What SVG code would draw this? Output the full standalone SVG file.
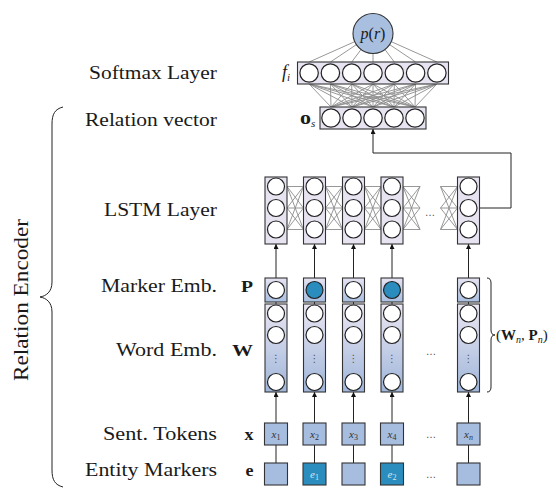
<svg xmlns="http://www.w3.org/2000/svg" width="556" height="488" viewBox="0 0 556 488">
<defs>
<linearGradient id="gP" x1="0" y1="0" x2="0" y2="1"><stop offset="0" stop-color="#e6e3f2"/><stop offset="1" stop-color="#aabfe0"/></linearGradient>
<linearGradient id="gW" x1="0" y1="0" x2="0" y2="1"><stop offset="0" stop-color="#ebe7f3"/><stop offset="1" stop-color="#9fb6da"/></linearGradient>
<marker id="ah" viewBox="0 0 6 6" refX="6" refY="3" markerWidth="5" markerHeight="5" orient="auto" markerUnits="userSpaceOnUse"><path d="M0,0 L6,3 L0,6 z" fill="#111"/></marker>
</defs>
<style>
.lbl{font-family:"Liberation Serif","DejaVu Serif",serif;font-size:19px;fill:#1a1a1a;text-anchor:end}
.m{font-family:"Liberation Serif","DejaVu Serif",serif;fill:#1a1a1a}
.bx{fill:#e7e3f1;stroke:#333;stroke-width:1.1}
.pb{fill:url(#gP);stroke:#333;stroke-width:1.1}
.wb{fill:url(#gW);stroke:#333;stroke-width:1.1}
.tk{fill:#a6bddf;stroke:#333;stroke-width:1.1}
.tkd{fill:#2b8cbe;stroke:#333;stroke-width:1.1}
.c{fill:#fff;stroke:#222;stroke-width:1.2}
.cd{fill:#2b8cbe;stroke:#222;stroke-width:1.2}
.g{stroke:#8c8c8c;stroke-width:0.9;fill:none}
.k{stroke:#222;stroke-width:1;fill:none}
.a{stroke:#222;stroke-width:1;fill:none;marker-end:url(#ah)}
.tt{font-family:"Liberation Serif","DejaVu Serif",serif;font-style:italic;font-size:11px;text-anchor:middle;fill:#333}
.dots{font-family:"DejaVu Sans",sans-serif;font-size:10px;fill:#555;text-anchor:middle}
</style>

<!-- left labels -->
<g id="labels">
<text class="lbl" x="217" y="79" textLength="128" lengthAdjust="spacingAndGlyphs">Softmax Layer</text>
<text class="lbl" x="217" y="126" textLength="132" lengthAdjust="spacingAndGlyphs">Relation vector</text>
<text class="lbl" x="217" y="216" textLength="113" lengthAdjust="spacingAndGlyphs">LSTM Layer</text>
<text class="lbl" x="217" y="292" textLength="116" lengthAdjust="spacingAndGlyphs">Marker Emb.</text>
<text class="lbl" x="217" y="356" textLength="101" lengthAdjust="spacingAndGlyphs">Word Emb.</text>
<text class="lbl" x="217" y="440" textLength="114" lengthAdjust="spacingAndGlyphs">Sent. Tokens</text>
<text class="lbl" x="217" y="476" textLength="132" lengthAdjust="spacingAndGlyphs">Entity Markers</text>
<text class="m" transform="translate(28,300) rotate(-90)" text-anchor="middle" font-size="20" textLength="162" lengthAdjust="spacingAndGlyphs">Relation Encoder</text>
<path class="k" stroke-width="1.3" d="M63,107 C55,109 52,114 52,124 L52,282 C52,292 46,296 40,297 C46,298 52,302 52,312 L52,470 C52,480 55,485 63,487"/>
<text class="m" x="282" y="78" font-size="18" font-style="italic">f<tspan font-size="11" dy="3">i</tspan></text>
<text class="m" x="300" y="124" font-size="18" font-weight="bold" textLength="11" lengthAdjust="spacingAndGlyphs">o</text>
<text class="m" x="311" y="127" font-size="11" font-style="italic">s</text>
<text class="m" x="241" y="292" font-size="17" font-weight="bold" textLength="12" lengthAdjust="spacingAndGlyphs">P</text>
<text class="m" x="232" y="356" font-size="17" font-weight="bold" textLength="21" lengthAdjust="spacingAndGlyphs">W</text>
<text class="m" x="244.5" y="440" font-size="17" font-weight="bold" textLength="9" lengthAdjust="spacingAndGlyphs">x</text>
<text class="m" x="245.5" y="476" font-size="17" font-weight="bold" textLength="8" lengthAdjust="spacingAndGlyphs">e</text>
<path class="k" stroke-width="1.1" d="M487,278 Q491,278 491,283 L491,330 Q491,335 495,335 Q491,335 491,340 L491,387 Q491,392 487,392"/>
<text class="m" x="496" y="340" font-size="15">(<tspan font-weight="bold">W</tspan><tspan font-size="10" font-style="italic" dy="3">n</tspan><tspan dy="-3">, </tspan><tspan font-weight="bold">P</tspan><tspan font-size="10" font-style="italic" dy="3">n</tspan><tspan dy="-3">)</tspan></text>
<text class="dots" x="430" y="216">…</text>
<text class="dots" x="431" y="355">…</text>
<text class="dots" x="431" y="438">…</text>
<text class="dots" x="431" y="478">…</text>
</g>

<!-- connectors -->
<g id="connectors">
<g class="g">
<line x1="309.1" y1="62" x2="373" y2="33.5"/><line x1="330.4" y1="62" x2="373" y2="33.5"/><line x1="351.7" y1="62" x2="373" y2="33.5"/><line x1="373" y1="62" x2="373" y2="33.5"/><line x1="394.3" y1="62" x2="373" y2="33.5"/><line x1="415.6" y1="62" x2="373" y2="33.5"/><line x1="436.9" y1="62" x2="373" y2="33.5"/>
</g>
<g class="g">
<path d="M309.1,84L331,107M309.1,84L352,107M309.1,84L373,107M309.1,84L394,107M309.1,84L415,107
M330.4,84L331,107M330.4,84L352,107M330.4,84L373,107M330.4,84L394,107M330.4,84L415,107
M351.7,84L331,107M351.7,84L352,107M351.7,84L373,107M351.7,84L394,107M351.7,84L415,107
M373,84L331,107M373,84L352,107M373,84L373,107M373,84L394,107M373,84L415,107
M394.3,84L331,107M394.3,84L352,107M394.3,84L373,107M394.3,84L394,107M394.3,84L415,107
M415.6,84L331,107M415.6,84L352,107M415.6,84L373,107M415.6,84L394,107M415.6,84L415,107
M436.9,84L331,107M436.9,84L352,107M436.9,84L373,107M436.9,84L394,107M436.9,84L415,107"/>
</g>
<g class="g">
<path d="M287,186.5L303.5,186.5M287,186.5L303.5,208M287,186.5L303.5,229.5M287,208L303.5,186.5M287,208L303.5,208M287,208L303.5,229.5M287,229.5L303.5,186.5M287,229.5L303.5,208M287,229.5L303.5,229.5"/>
<path d="M325.5,186.5L342.5,186.5M325.5,186.5L342.5,208M325.5,186.5L342.5,229.5M325.5,208L342.5,186.5M325.5,208L342.5,208M325.5,208L342.5,229.5M325.5,229.5L342.5,186.5M325.5,229.5L342.5,208M325.5,229.5L342.5,229.5"/>
<path d="M364.5,186.5L381,186.5M364.5,186.5L381,208M364.5,186.5L381,229.5M364.5,208L381,186.5M364.5,208L381,208M364.5,208L381,229.5M364.5,229.5L381,186.5M364.5,229.5L381,208M364.5,229.5L381,229.5"/>
<path d="M403,186.5L420,186.5M403,186.5L420,208M403,186.5L420,229.5M403,208L420,186.5M403,208L420,208M403,208L420,229.5M403,229.5L420,186.5M403,229.5L420,208M403,229.5L420,229.5"/>
<path d="M440.5,186.5L457.5,186.5M440.5,186.5L457.5,208M440.5,186.5L457.5,229.5M440.5,208L457.5,186.5M440.5,208L457.5,208M440.5,208L457.5,229.5M440.5,229.5L457.5,186.5M440.5,229.5L457.5,208M440.5,229.5L457.5,229.5"/>
</g>
<path class="a" d="M479.5,208 L511,208 L511,153 L373,153 L373,129"/>
<g>
<line class="k" x1="276" y1="463" x2="276" y2="445"/><line class="k" x1="314.5" y1="463" x2="314.5" y2="445"/><line class="k" x1="353.5" y1="463" x2="353.5" y2="445"/><line class="k" x1="392" y1="463" x2="392" y2="445"/><line class="k" x1="468.5" y1="463" x2="468.5" y2="445"/>
<line class="a" x1="276" y1="423" x2="276" y2="392"/><line class="a" x1="314.5" y1="423" x2="314.5" y2="392"/><line class="a" x1="353.5" y1="423" x2="353.5" y2="392"/><line class="a" x1="392" y1="423" x2="392" y2="392"/><line class="a" x1="468.5" y1="423" x2="468.5" y2="392"/>
<line class="k" x1="276" y1="302" x2="276" y2="304"/><line class="k" x1="314.5" y1="302" x2="314.5" y2="304"/><line class="k" x1="353.5" y1="302" x2="353.5" y2="304"/><line class="k" x1="392" y1="302" x2="392" y2="304"/><line class="k" x1="468.5" y1="302" x2="468.5" y2="304"/>
<line class="a" x1="276" y1="278" x2="276" y2="244"/><line class="a" x1="314.5" y1="278" x2="314.5" y2="244"/><line class="a" x1="353.5" y1="278" x2="353.5" y2="244"/><line class="a" x1="392" y1="278" x2="392" y2="244"/><line class="a" x1="468.5" y1="278" x2="468.5" y2="244"/>
</g>
</g>

<g id="pr">
<circle cx="373" cy="33.5" r="20" fill="#a8bfe0" stroke="#333" stroke-width="1.1"/>
<text class="m" x="373" y="38.5" font-size="16" text-anchor="middle"><tspan font-style="italic">p</tspan>(<tspan font-style="italic">r</tspan>)</text>
</g>
<g id="softmax">
<rect class="bx" x="297.5" y="62" width="151" height="22"/>
<circle class="c" cx="309.1" cy="73" r="9.2"/><circle class="c" cx="330.4" cy="73" r="9.2"/><circle class="c" cx="351.7" cy="73" r="9.2"/><circle class="c" cx="373" cy="73" r="9.2"/><circle class="c" cx="394.3" cy="73" r="9.2"/><circle class="c" cx="415.6" cy="73" r="9.2"/><circle class="c" cx="436.9" cy="73" r="9.2"/>
</g>
<g id="relvec">
<rect class="bx" x="320" y="107" width="106" height="22"/>
<circle class="c" cx="331" cy="118" r="9.2"/><circle class="c" cx="352" cy="118" r="9.2"/><circle class="c" cx="373" cy="118" r="9.2"/><circle class="c" cx="394" cy="118" r="9.2"/><circle class="c" cx="415" cy="118" r="9.2"/>
</g>

<g id="lstm1"><rect class="bx" x="265" y="177" width="22" height="67"/><circle class="c" cx="276" cy="186.5" r="8.5"/><circle class="c" cx="276" cy="208" r="8.5"/><circle class="c" cx="276" cy="229.5" r="8.5"/></g>
<g id="lstm2"><rect class="bx" x="303.5" y="177" width="22" height="67"/><circle class="c" cx="314.5" cy="186.5" r="8.5"/><circle class="c" cx="314.5" cy="208" r="8.5"/><circle class="c" cx="314.5" cy="229.5" r="8.5"/></g>
<g id="lstm3"><rect class="bx" x="342.5" y="177" width="22" height="67"/><circle class="c" cx="353.5" cy="186.5" r="8.5"/><circle class="c" cx="353.5" cy="208" r="8.5"/><circle class="c" cx="353.5" cy="229.5" r="8.5"/></g>
<g id="lstm4"><rect class="bx" x="381" y="177" width="22" height="67"/><circle class="c" cx="392" cy="186.5" r="8.5"/><circle class="c" cx="392" cy="208" r="8.5"/><circle class="c" cx="392" cy="229.5" r="8.5"/></g>
<g id="lstmn"><rect class="bx" x="457.5" y="177" width="22" height="67"/><circle class="c" cx="468.5" cy="186.5" r="8.5"/><circle class="c" cx="468.5" cy="208" r="8.5"/><circle class="c" cx="468.5" cy="229.5" r="8.5"/></g>

<g id="p1"><rect class="pb" x="265" y="278" width="22" height="24"/><circle class="c" cx="276" cy="290" r="8.5"/></g>
<g id="p2"><rect class="pb" x="303.5" y="278" width="22" height="24"/><circle class="cd" cx="314.5" cy="290" r="8.5"/></g>
<g id="p3"><rect class="pb" x="342.5" y="278" width="22" height="24"/><circle class="c" cx="353.5" cy="290" r="8.5"/></g>
<g id="p4"><rect class="pb" x="381" y="278" width="22" height="24"/><circle class="cd" cx="392" cy="290" r="8.5"/></g>
<g id="pn"><rect class="pb" x="457.5" y="278" width="22" height="24"/><circle class="c" cx="468.5" cy="290" r="8.5"/></g>

<g id="w1"><rect class="wb" x="265" y="304" width="22" height="88"/><circle class="c" cx="276" cy="313.5" r="8.5"/><circle class="c" cx="276" cy="335" r="8.5"/><text class="dots" x="276" y="362" font-size="9">⋮</text><circle class="c" cx="276" cy="382" r="8.5"/></g>
<g id="w2"><rect class="wb" x="303.5" y="304" width="22" height="88"/><circle class="c" cx="314.5" cy="313.5" r="8.5"/><circle class="c" cx="314.5" cy="335" r="8.5"/><text class="dots" x="314.5" y="362" font-size="9">⋮</text><circle class="c" cx="314.5" cy="382" r="8.5"/></g>
<g id="w3"><rect class="wb" x="342.5" y="304" width="22" height="88"/><circle class="c" cx="353.5" cy="313.5" r="8.5"/><circle class="c" cx="353.5" cy="335" r="8.5"/><text class="dots" x="353.5" y="362" font-size="9">⋮</text><circle class="c" cx="353.5" cy="382" r="8.5"/></g>
<g id="w4"><rect class="wb" x="381" y="304" width="22" height="88"/><circle class="c" cx="392" cy="313.5" r="8.5"/><circle class="c" cx="392" cy="335" r="8.5"/><text class="dots" x="392" y="362" font-size="9">⋮</text><circle class="c" cx="392" cy="382" r="8.5"/></g>
<g id="wn"><rect class="wb" x="457.5" y="304" width="22" height="88"/><circle class="c" cx="468.5" cy="313.5" r="8.5"/><circle class="c" cx="468.5" cy="335" r="8.5"/><text class="dots" x="468.5" y="362" font-size="9">⋮</text><circle class="c" cx="468.5" cy="382" r="8.5"/></g>

<g id="x1"><rect class="tk" x="264.5" y="423" width="23" height="22"/><text class="tt" x="276" y="438">x<tspan font-size="8" font-style="normal" dy="2">1</tspan></text></g>
<g id="x2"><rect class="tk" x="303" y="423" width="23" height="22"/><text class="tt" x="314.5" y="438">x<tspan font-size="8" font-style="normal" dy="2">2</tspan></text></g>
<g id="x3"><rect class="tk" x="342" y="423" width="23" height="22"/><text class="tt" x="353.5" y="438">x<tspan font-size="8" font-style="normal" dy="2">3</tspan></text></g>
<g id="x4"><rect class="tk" x="380.5" y="423" width="23" height="22"/><text class="tt" x="392" y="438">x<tspan font-size="8" font-style="normal" dy="2">4</tspan></text></g>
<g id="xn"><rect class="tk" x="457" y="423" width="23" height="22"/><text class="tt" x="468.5" y="438">x<tspan font-size="8" dy="2">n</tspan></text></g>

<g id="e1box"><rect class="tk" x="264.5" y="463" width="23" height="22"/></g>
<g id="e2box"><rect class="tkd" x="303" y="463" width="23" height="22"/><text class="tt" x="314.5" y="478" style="fill:#d5e4f2">e<tspan font-size="8" font-style="normal" dy="2">1</tspan></text></g>
<g id="e3box"><rect class="tk" x="342" y="463" width="23" height="22"/></g>
<g id="e4box"><rect class="tkd" x="380.5" y="463" width="23" height="22"/><text class="tt" x="392" y="478" style="fill:#d5e4f2">e<tspan font-size="8" font-style="normal" dy="2">2</tspan></text></g>
<g id="enbox"><rect class="tk" x="457" y="463" width="23" height="22"/></g>
</svg>
